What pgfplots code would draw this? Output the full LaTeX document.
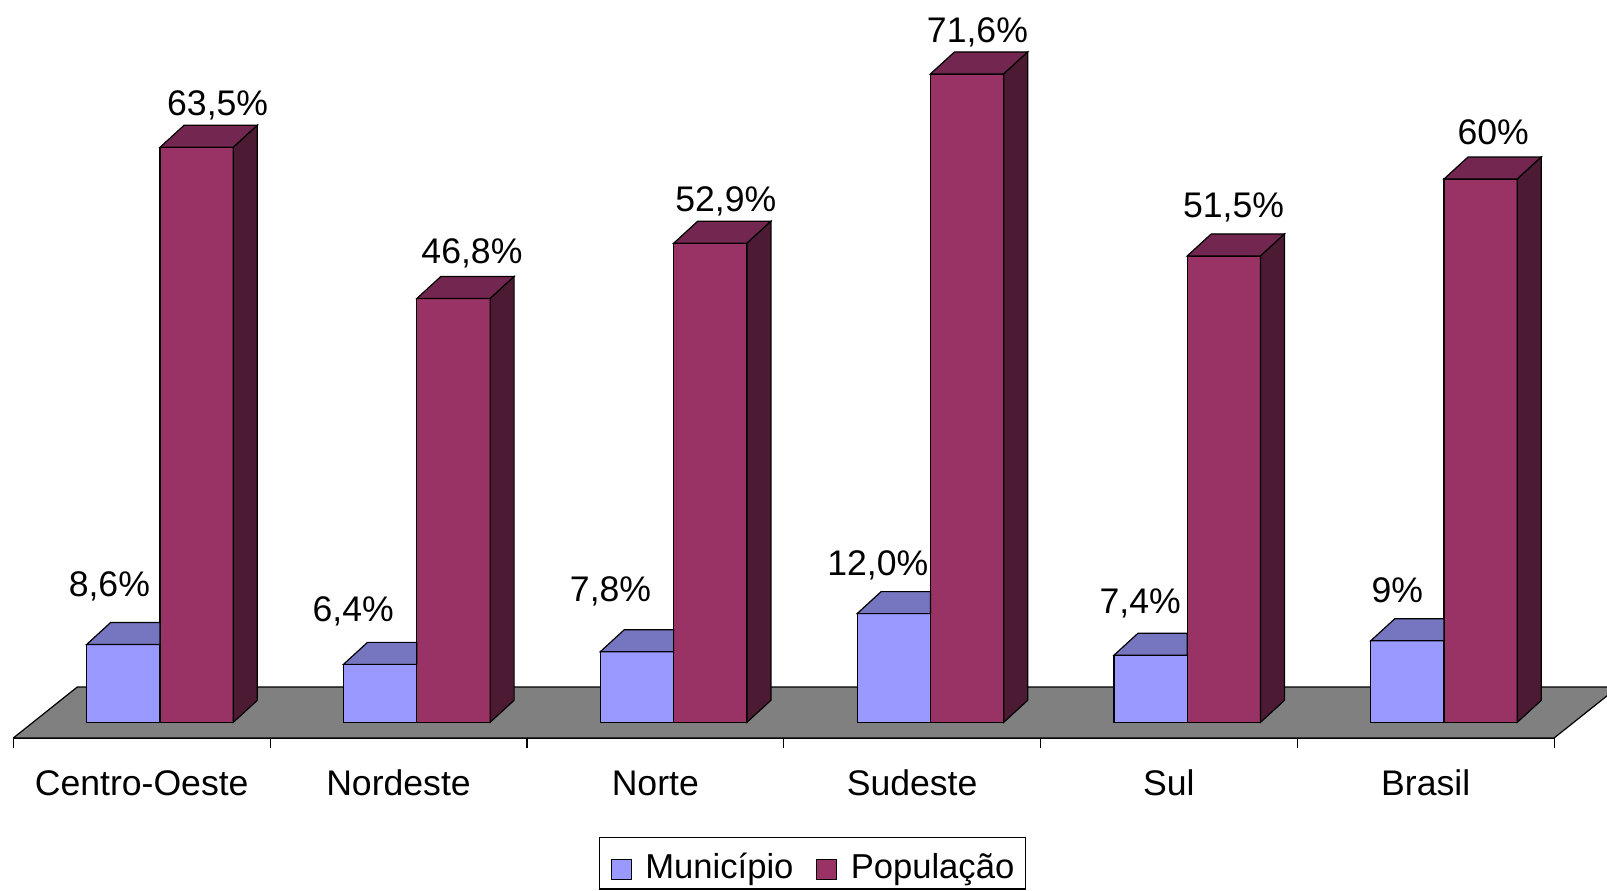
\documentclass[border=0pt]{standalone}
\usepackage{fontspec}
\setmainfont{Liberation Sans}
\usepackage{pgfplots}
\usepackage{pgfplotstable}
\pgfplotsset{compat=1.18}

\definecolor{mfront}{HTML}{9999FF}
\definecolor{mtop}{HTML}{7575C0}
\definecolor{pfront}{HTML}{993366}
\definecolor{ptop}{HTML}{73264F}
\definecolor{pside}{HTML}{4C1A33}
\definecolor{floorgray}{HTML}{808080}

\newdimen\ylen \ylen=4.5275pt
\pgfdeclareplotmark{empty3d}{}
% visible part of the top face of a Municipio bar (the rest is hidden by the Populacao bar)
\newcommand\topthreed[1]{%
  \pgfsetlinewidth{0.6pt}\pgfsetstrokecolor{black}\pgfsetmiterjoin
  \pgfpathmoveto{\pgfqpoint{-36.65pt}{0pt}}%
  \pgfpathlineto{\pgfqpoint{0pt}{0pt}}%
  \pgfpathlineto{\pgfqpoint{0pt}{11pt}}%
  \pgfpathlineto{\pgfqpoint{-24.65pt}{11pt}}%
  \pgfpathclose
  \pgfsetfillcolor{#1}\pgfusepath{fill,stroke}%
}
% top and side faces of a bar, drawn from its front top right corner
\newcommand\boxthreed[2]{%
  \pgfsetlinewidth{0.6pt}\pgfsetstrokecolor{black}\pgfsetmiterjoin
  \pgfpathmoveto{\pgfqpoint{-36.65pt}{0pt}}%
  \pgfpathlineto{\pgfqpoint{0pt}{0pt}}%
  \pgfpathlineto{\pgfqpoint{12pt}{11pt}}%
  \pgfpathlineto{\pgfqpoint{-24.65pt}{11pt}}%
  \pgfpathclose
  \pgfsetfillcolor{#1}\pgfusepath{fill,stroke}%
  \pgfpathmoveto{\pgfqpoint{0pt}{0pt}}%
  \pgfpathlineto{\pgfqpoint{12pt}{11pt}}%
  \pgfpathlineto{\pgfqpoint{12pt}{\dimexpr 11pt-\hgt\ylen\relax}}%
  \pgfpathlineto{\pgfqpoint{0pt}{-\hgt\ylen}}%
  \pgfpathclose
  \pgfsetfillcolor{#2}\pgfusepath{fill,stroke}%
}

% x: category index; mun/pop: values (%); labels as printed; label offsets in pt
\pgfplotstableread{
x mun  pop  mlab plab mlx   mly   plx  ply
0 8.6  63.5 8,6  63,5 -7    24    10.5 16
1 6.4  46.8 6,4  46,8 -13.5 21.3  9.25 17.5
2 7.8  52.9 7,8  52,9 -13.2 24.85 7.75 16
3 12.0 71.6 12,0 71,6 -8    19    5.2  15.65
4 7.4  51.5 7,4  51,5 -5.2  21    4.85 19.35
5 9    60   9    60   -5    19    6.25 17.35
}\datatable

\newcommand\lblfont{\fontsize{17.8}{21}\selectfont}

\begin{document}
\begin{tikzpicture}
\useasboundingbox (-6.65pt,-76pt) rectangle (796.85pt,369pt);
\begin{axis}[
  at={(0pt,0pt)}, anchor=south west,
  x=128.4pt, y=4.5275pt,
  xmin=-0.5, xmax=5.5, ymin=-1.734, ymax=75,
  clip=false,
  axis x line*=bottom, axis y line=none,
  x axis line style={black, line width=0.6pt},
  xtick={0,...,5},
  xticklabels={Centro-Oeste,Nordeste,Norte,Sudeste,Sul,Brasil},
  minor xtick={-0.5,0.5,1.5,2.5,3.5,4.5,5.5},
  major tick length=0pt, minor tick length=5pt,
  tick align=outside,
  tick style={black, line width=0.6pt},
  xticklabel style={font=\lblfont, anchor=base, yshift=-28.5pt},
  legend columns=2,
  legend style={at={(0.5187,-0.14205)}, anchor=north, draw=black, line width=0.6pt,
    font=\fontsize{17.3}{20}\selectfont, inner xsep=5.8pt, inner ysep=3.5pt,
    nodes={inner sep=0pt},
    /tikz/every odd column/.append style={column sep=6.7pt},
    /tikz/every even column/.append style={column sep=11.35pt}},
  legend image code/.code={\draw[#1, draw=black, line width=0.6pt] (0pt,-6pt) rectangle (10pt,4pt);
    \path (0pt,11.4pt) circle (0pt);},
  nodes near coords style={font=\lblfont, black, inner sep=0pt},
]
% floor
\addplot[forget plot, fill=floorgray, draw=black, line width=0.6pt]
  coordinates {(-0.5,-1.734) (5.5,-1.734) (5.7492,3.898) (-0.2508,3.898) (-0.5,-1.734)};

% Municipio front faces
\addplot[ybar, bar width=0.2854, bar shift=-0.0714, fill=mfront, draw=black, line width=0.6pt,
  point meta=explicit symbolic,
  nodes near coords={\pgfplotspointmeta\%},
  visualization depends on={\thisrow{mlx}\as\lx},
  visualization depends on={\thisrow{mly}\as\ly},
  every node near coord/.append style={anchor=base, xshift=\lx, xshift=-9.17pt, yshift=\ly}]
  table[x=x, y=mun, meta=mlab] {\datatable};
\addlegendentry{Município}
% Municipio top faces
\addplot[forget plot, scatter, only marks, mark=empty3d,
  scatter/@pre marker code/.code={\topthreed{mtop}},
  scatter/@post marker code/.code={}]
  table[x expr=\thisrow{x}+0.0713, y=mun] {\datatable};

% Populacao front faces
\addplot[ybar, bar width=0.2854, bar shift=0.2140, fill=pfront, draw=black, line width=0.6pt,
  point meta=explicit symbolic,
  nodes near coords={\pgfplotspointmeta\%},
  visualization depends on={\thisrow{plx}\as\lx},
  visualization depends on={\thisrow{ply}\as\ly},
  every node near coord/.append style={anchor=base, xshift=\lx, xshift=27.48pt, yshift=\ly}]
  table[x=x, y=pop, meta=plab] {\datatable};
\addlegendentry{População}
% Populacao top and side faces
\addplot[forget plot, scatter, only marks, mark=empty3d,
  visualization depends on={\thisrow{pop}\as\hgt},
  scatter/@pre marker code/.code={\boxthreed{ptop}{pside}},
  scatter/@post marker code/.code={}]
  table[x expr=\thisrow{x}+0.3567, y=pop] {\datatable};
\end{axis}
\end{tikzpicture}
\end{document}
